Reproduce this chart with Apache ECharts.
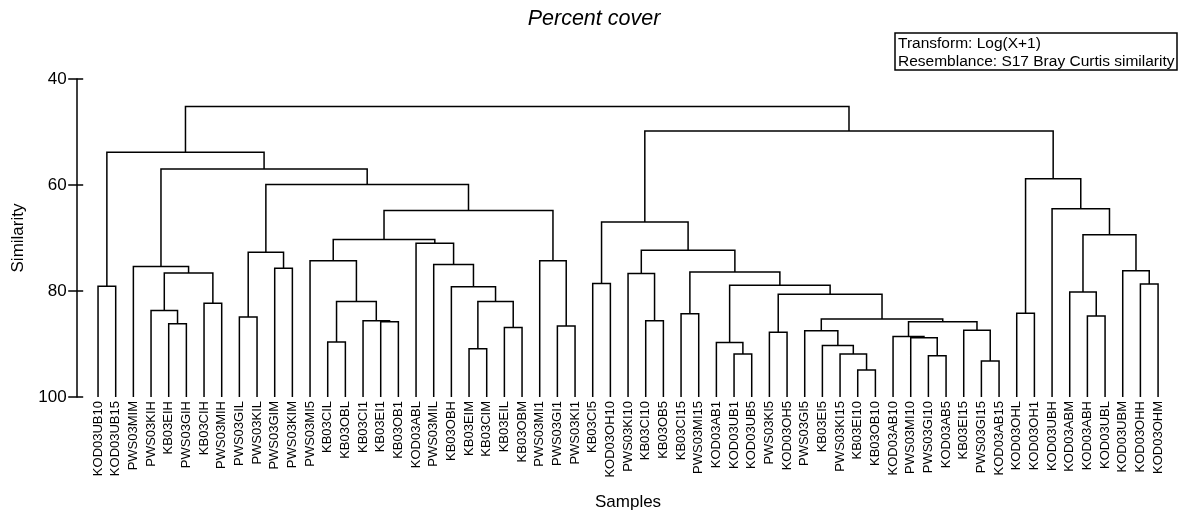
<!DOCTYPE html>
<html><head><meta charset="utf-8">
<script src="https://cdn.jsdelivr.net/npm/echarts@6/dist/echarts.min.js"></script>
<style>html,body{margin:0;padding:0;background:#fff}#c{width:1180px;height:512px}</style>
</head><body><div id="c"></div>
<script>
// Leaf labels in dendrogram order
const leaves = ['KOD03UB10','KOD03UB15','PWS03MIM','PWS03KIH','KB03EIH','PWS03GIH','KB03CIH','PWS03MIH',
  'PWS03GIL','PWS03KIL','PWS03GIM','PWS03KIM','PWS03MI5','KB03CIL','KB03OBL','KB03CI1','KB03EI1','KB03OB1',
  'KOD03ABL','PWS03MIL','KB03OBH','KB03EIM','KB03CIM','KB03EIL','KB03OBM','PWS03MI1','PWS03GI1','PWS03KI1',
  'KB03CI5','KOD03OH10','PWS03KI10','KB03CI10','KB03OB5','KB03CI15','PWS03MI15','KOD03AB1','KOD03UB1','KOD03UB5',
  'PWS03KI5','KOD03OH5','PWS03GI5','KB03EI5','PWS03KI15','KB03EI10','KB03OB10','KOD03AB10','PWS03MI10','PWS03GI10',
  'KOD03AB5','KB03EI15','PWS03GI15','KOD03AB15','KOD03OHL','KOD03OH1','KOD03UBH','KOD03ABM','KOD03ABH','KOD03UBL',
  'KOD03UBM','KOD03OHH','KOD03OHM'];
// Merges: [childA, childB, similarity]; leaves are 0..60, merge k creates node 61+k
const merges = [
  [0,1,79.1],[4,5,86.2],[3,62,83.7],[6,7,82.3],[63,64,76.6],[2,65,75.4],[8,9,84.9],[10,11,75.7],[67,68,72.7],
  [13,14,89.6],[16,17,85.8],[15,71,85.6],[70,72,82.0],[12,73,74.3],[21,22,90.9],[23,24,86.9],[75,76,82.0],
  [20,77,79.2],[19,78,75.0],[18,79,71.0],[74,80,70.3],[26,27,86.6],[25,82,74.3],[81,83,64.8],[69,84,59.9],
  [66,85,57.0],[61,86,53.8],
  [28,29,78.6],[31,32,85.6],[30,89,76.7],[33,34,84.3],[36,37,91.9],[35,92,89.7],[38,39,87.8],[43,44,94.9],
  [42,95,91.9],[41,96,90.3],[40,97,87.5],[47,48,92.2],[46,99,88.8],[45,100,88.6],[50,51,93.2],[49,102,87.4],
  [101,103,85.8],[98,104,85.3],[94,105,80.6],[93,106,78.9],[91,107,76.4],[90,108,72.3],[88,109,67.0],
  [52,53,84.2],[56,57,84.7],[55,112,80.2],[59,60,78.7],[58,114,76.2],[113,115,69.4],[54,116,64.5],
  [111,117,58.8],[110,118,49.8],[87,119,45.2]
];
const yMin = 40, yMax = 100, yStep = 20;

const FONT = '"Liberation Sans", Arial, sans-serif';
const nodeX = leaves.map((_, i) => i);
const nodeH = leaves.map(() => yMax);
const segs = [];
merges.forEach(([a, b, h]) => {
  segs.push([nodeX[a], nodeH[a], nodeX[b], nodeH[b], h]);
  nodeX.push((nodeX[a] + nodeX[b]) / 2);
  nodeH.push(h);
});

const chart = echarts.init(document.getElementById('c'), null, {renderer: 'canvas'});
chart.setOption({
  animation: false,
  backgroundColor: '#fff',
  grid: {left: 89.2, right: 13.1, top: 79, bottom: 115, containLabel: false, outerBoundsMode: 'none'},
  xAxis: [
    {type: 'value', min: -0.5, max: leaves.length - 0.5, show: false},
    {type: 'category', data: leaves, boundaryGap: true, position: 'bottom',
     axisLine: {show: false, onZero: false}, axisTick: {show: false},
     axisLabel: {rotate: 90, interval: 0, margin: 4, fontSize: 13, color: '#000', fontFamily: FONT},
     name: 'Samples', nameLocation: 'middle', nameGap: 97,
     nameTextStyle: {fontSize: 17, color: '#000', fontFamily: FONT}}
  ],
  yAxis: [
    {type: 'value', position: 'left', inverse: true, min: yMin, max: yMax, interval: yStep, offset: 12.5,
     splitLine: {show: false},
     axisLine: {show: true, onZero: false, lineStyle: {color: '#000', width: 1.5}},
     axisTick: {show: true, length: 8.5, lineStyle: {color: '#000', width: 1.5}},
     axisLabel: {margin: 10, fontSize: 17, color: '#000', fontFamily: FONT},
     name: 'Similarity', nameLocation: 'middle', nameGap: 50, nameRotate: 90,
     nameTextStyle: {fontSize: 17, color: '#000', fontFamily: FONT}},
    {type: 'value', position: 'left', inverse: true, min: yMin, max: yMax, interval: yStep, offset: 12.5,
     splitLine: {show: false}, axisLine: {show: false, onZero: false}, axisLabel: {show: false},
     axisTick: {show: true, inside: true, length: 6.5, lineStyle: {color: '#000', width: 1.5}}}
  ],
  series: [{
    type: 'custom', xAxisIndex: 0, yAxisIndex: 0, silent: true, clip: false,
    encode: {x: [0, 2], y: [1, 3, 4]},
    data: segs,
    renderItem: function (params, api) {
      const xa = api.value(0), ha = api.value(1), xb = api.value(2), hb = api.value(3), h = api.value(4);
      const pts = [api.coord([xa, ha]), api.coord([xa, h]), api.coord([xb, h]), api.coord([xb, hb])];
      return {type: 'polyline', shape: {points: pts}, style: {stroke: '#000', lineWidth: 1.5, fill: null}};
    }
  }],
  graphic: [
    {type: 'text', x: 594, y: 19, style: {text: 'Percent cover', font: 'italic 21.5px ' + FONT,
      fill: '#000', textAlign: 'center', textVerticalAlign: 'middle'}},
    {type: 'rect', shape: {x: 895, y: 33, width: 282, height: 37},
     style: {stroke: '#000', lineWidth: 1.5, fill: '#fff'}},
    {type: 'text', x: 898, y: 43.5, style: {text: 'Transform: Log(X+1)', font: '15.5px ' + FONT,
      fill: '#000', textVerticalAlign: 'middle'}},
    {type: 'text', x: 898, y: 61.5, style: {text: 'Resemblance: S17 Bray Curtis similarity', font: '15.5px ' + FONT,
      fill: '#000', textVerticalAlign: 'middle'}}
  ]
});
</script>
</body></html>
